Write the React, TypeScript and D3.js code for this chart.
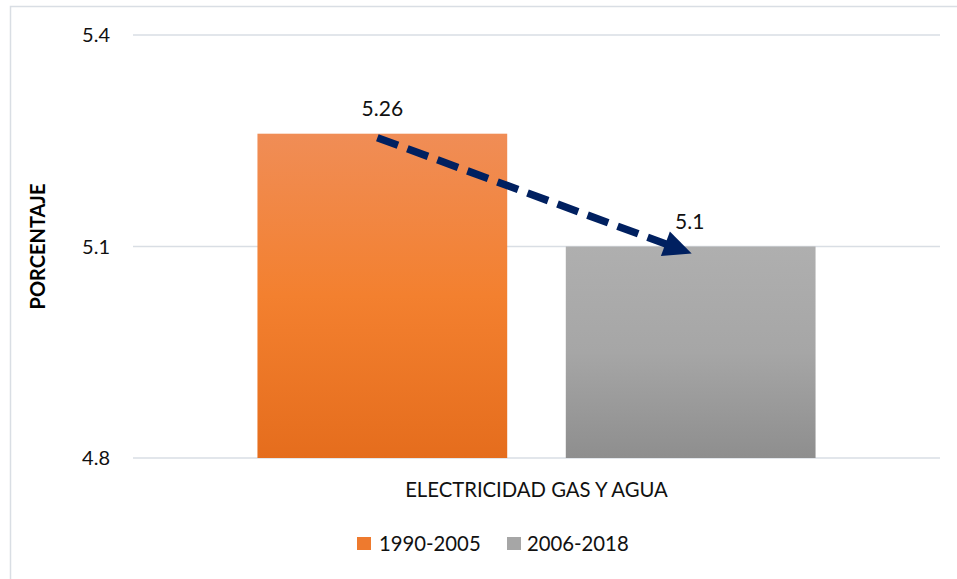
import React from "react";
import * as d3 from "d3";

const categories = ["ELECTRICIDAD GAS Y AGUA"];
const seriesNames = ["1990-2005", "2006-2018"];
const seriesValues = [5.26, 5.1];
const valueLabels = ["5.26", "5.1"];
const yTicks = [4.8, 5.1, 5.4];
const yTickLabels = ["4.8", "5.1", "5.4"];
const yTitle = "PORCENTAJE";

const W = 957;
const H = 579;
const FONT = "Lato, 'Open Sans', sans-serif";

export default function App() {
  const plotLeft = 133;
  const plotRight = 940;
  const plotTop = 35;
  const plotBottom = 458;

  const y = d3.scaleLinear().domain([4.8, 5.4]).range([plotBottom, plotTop]);
  const x0 = d3
    .scaleBand<string>()
    .domain(categories)
    .range([plotLeft, plotRight])
    .paddingInner(0)
    .paddingOuter(0.223);
  const x1 = d3
    .scaleBand<string>()
    .domain(seriesNames)
    .range([0, x0.bandwidth()])
    .paddingInner(0.19)
    .paddingOuter(0);

  const gradIds = ["gOrange", "gGray"];
  const legendColors = ["#EE7A2E", "#A6A6A6"];

  const cat = categories[0];
  const bx = (i: number) => (x0(cat) ?? 0) + (x1(seriesNames[i]) ?? 0);
  const bw = x1.bandwidth();

  const sx = bx(0) + bw / 2 - 5;
  const sy = y(seriesValues[0]) + 4;
  const ex = bx(1) + bw / 2 + 1;
  const ey = y(seriesValues[1]) + 7;
  const ang = Math.atan2(ey - sy, ex - sx);
  const headLen = 28;
  const headW = 13;
  const lx = ex - Math.cos(ang) * (headLen - 2);
  const ly = ey - Math.sin(ang) * (headLen - 2);
  const bxh = ex - Math.cos(ang) * headLen;
  const byh = ey - Math.sin(ang) * headLen;
  const px = -Math.sin(ang);
  const py = Math.cos(ang);
  const head = [
    [ex, ey],
    [bxh + px * headW, byh + py * headW],
    [bxh - px * headW, byh - py * headW],
  ];

  const legendItems = [
    { sx: 357, tx: 379 },
    { sx: 507, tx: 527 },
  ];

  return (
    <div style={{ position: "absolute", left: 0, top: 0 }}>
      <svg width={W} height={H} style={{ display: "block", background: "#fff" }}>
        <defs>
          <linearGradient id="gOrange" x1="0" y1="0" x2="0" y2="1">
            <stop offset="0" stopColor="#F08D56" />
            <stop offset="0.5" stopColor="#F3802F" />
            <stop offset="1" stopColor="#E56D1D" />
          </linearGradient>
          <linearGradient id="gGray" x1="0" y1="0" x2="0" y2="1">
            <stop offset="0" stopColor="#AFAFAF" />
            <stop offset="0.5" stopColor="#A6A6A6" />
            <stop offset="1" stopColor="#8E8E8E" />
          </linearGradient>
        </defs>
        <rect x={10.5} y={6.5} width={W + 10} height={H + 10} fill="#fff" stroke="#D9DEE4" strokeWidth={1.5} />
        {yTicks.map((t, i) => (
          <g key={t}>
            <line x1={plotLeft} x2={plotRight} y1={y(t)} y2={y(t)} stroke="#D9DEE4" strokeWidth={1.5} />
            <text x={110} y={y(t) + 7} textAnchor="end" fontFamily={FONT} fontSize={20} fill="#111">
              {yTickLabels[i]}
            </text>
          </g>
        ))}
        {seriesValues.map((v, i) => (
          <rect key={i} x={bx(i)} y={y(v)} width={bw} height={y(4.8) - y(v)} fill={`url(#${gradIds[i]})`} />
        ))}
        {seriesValues.map((v, i) => (
          <text
            key={"l" + i}
            x={bx(i) + bw / 2 + (i === 0 ? 0 : -1)}
            y={y(v) - 18}
            textAnchor="middle"
            fontFamily={FONT}
            fontSize={21}
            fill="#111"
          >
            {valueLabels[i]}
          </text>
        ))}
        <line x1={sx} y1={sy} x2={lx} y2={ly} stroke="#002060" strokeWidth={7.5} strokeDasharray="22 10" />
        <polygon points={head.map((p) => p.join(",")).join(" ")} fill="#002060" />
        <text
          transform={`translate(45, ${(plotTop + plotBottom) / 2}) rotate(-90)`}
          textAnchor="middle"
          fontFamily={FONT}
          fontWeight="bold"
          fontSize={20}
          fill="#000"
        >
          {yTitle}
        </text>
        <text x={(x0(cat) ?? 0) + x0.bandwidth() / 2} y={497} textAnchor="middle" fontFamily={FONT} fontSize={20.3} fill="#111">
          {cat}
        </text>
        {legendItems.map((it, i) => (
          <g key={"lg" + i}>
            <rect x={it.sx} y={537} width={14} height={13} fill={legendColors[i]} />
            <text x={it.tx} y={551} fontFamily={FONT} fontSize={20.3} fill="#111">
              {seriesNames[i]}
            </text>
          </g>
        ))}
      </svg>
    </div>
  );
}
